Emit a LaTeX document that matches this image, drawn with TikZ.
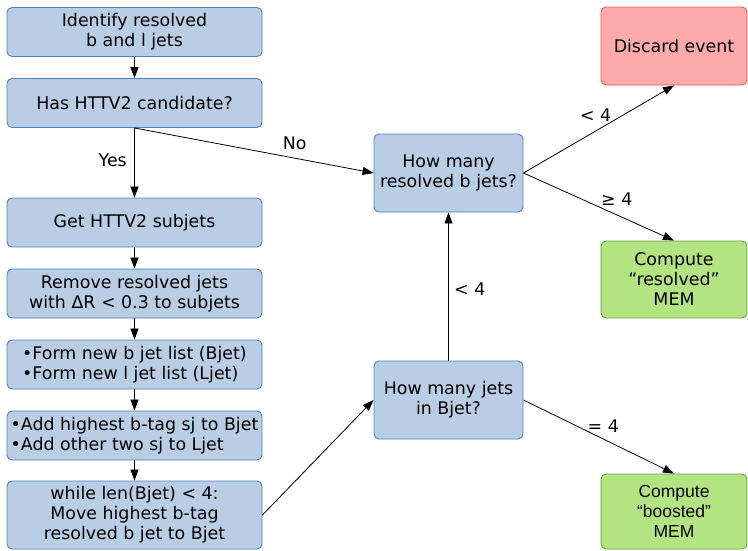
\documentclass[tikz,border=0pt]{standalone}
\usepackage{fontspec}
\setmainfont{DejaVu Sans}
\newfontfamily\arialfont{Liberation Sans}
\usepackage{xcolor}
\usetikzlibrary{arrows.meta,positioning}

\definecolor{stepfill}{RGB}{185,205,229}
\definecolor{stepline}{RGB}{79,129,189}
\definecolor{discardfill}{RGB}{255,170,170}
\definecolor{discardline}{RGB}{240,90,90}
\definecolor{memfill}{RGB}{180,228,130}
\definecolor{memline}{RGB}{100,165,70}

\tikzset{
    stepbox/.style={draw=stepline, fill=stepfill, rounded corners=5pt, line width=0.9pt,
        minimum width=255pt, minimum height=49pt, align=center, inner sep=2pt},
    askbox/.style={stepbox, minimum width=149pt, minimum height=78pt},
    flow/.style={-{Triangle[length=11pt,width=8pt]}, line width=0.8pt},
}

\begin{document}
\begin{tikzpicture}[x=1pt, y=-1pt, font=\fontsize{17.4}{20}\selectfont]
    \useasboundingbox (0,0) rectangle (748,550);

    % Left column: steps of the boosted selection
    \node[stepbox] (ident) at (134.5,32) {Identify resolved\\b and l jets};
    \node[stepbox] (cand) at (134.5,103) {Has HTTV2 candidate?};
    \node[stepbox] (subj) at (134.5,222.5) {Get HTTV2 subjets};
    \node[stepbox] (remove) at (134.5,293.5) {Remove resolved jets\\with ΔR < 0.3 to subjets};
    \node[stepbox, align=left] (lists) at (134.5,364.5) {•Form new b jet list (Bjet)\\•Form new l jet list (Ljet)};
    \node[stepbox, align=left] (addsj) at (134.5,435.5) {•Add highest b-tag sj to Bjet\\•Add other two sj to Ljet};
    \node[stepbox, minimum height=68pt] (loop) at (134.5,515) {while len(Bjet) < 4:\\Move highest b-tag\\resolved b jet to Bjet};

    % Middle column: the two questions
    \node[askbox] (nres) at (448.5,173) {How many\\resolved b jets?};
    \node[askbox] (nbjet) at (448.5,400) {How many jets\\in Bjet?};

    % Right column: outcomes
    \node[stepbox, draw=discardline, fill=discardfill, minimum width=146pt, minimum height=78pt] (discard) at (674,46) {Discard event};
    \node[stepbox, draw=memline, fill=memfill, minimum width=146pt, minimum height=77pt] (memres) at (674,279.5) {Compute\\“resolved”\\MEM};
    \node[stepbox, draw=memline, fill=memfill, minimum width=146pt, minimum height=75pt, font=\arialfont\fontsize{17.5}{20}\selectfont] (memboost) at (674,511.5) {Compute\\“boosted”\\MEM};

    % Connectors down the left column
    \draw[flow] (ident) -- (cand);
    \draw[flow] (cand) -- node[pos=0.47, left=4pt] {Yes} (subj);
    \foreach \a/\b in {subj/remove, remove/lists, lists/addsj, addsj/loop} {
        \draw[flow] (\a) -- (\b);
    }

    % Connectors to the questions
    \draw[flow] (cand.south) -- node[pos=0.67, above=5pt] {No} (nres.west);
    \draw[flow] (loop.east) -- (nbjet.west);
    \draw[flow] (nbjet) -- node[pos=0.48, right=2pt] {< 4} (nres);

    % Outcomes
    \draw[flow] (nres.east) -- node[pos=0.48, above=6pt] {< 4} (discard.south);
    \draw[flow] (nres.east) -- node[pos=0.62, above=6pt] {≥ 4} (memres.north);
    \draw[flow] (nbjet.east) -- node[pos=0.53, above=3pt] {= 4} (memboost.north);
\end{tikzpicture}
\end{document}
